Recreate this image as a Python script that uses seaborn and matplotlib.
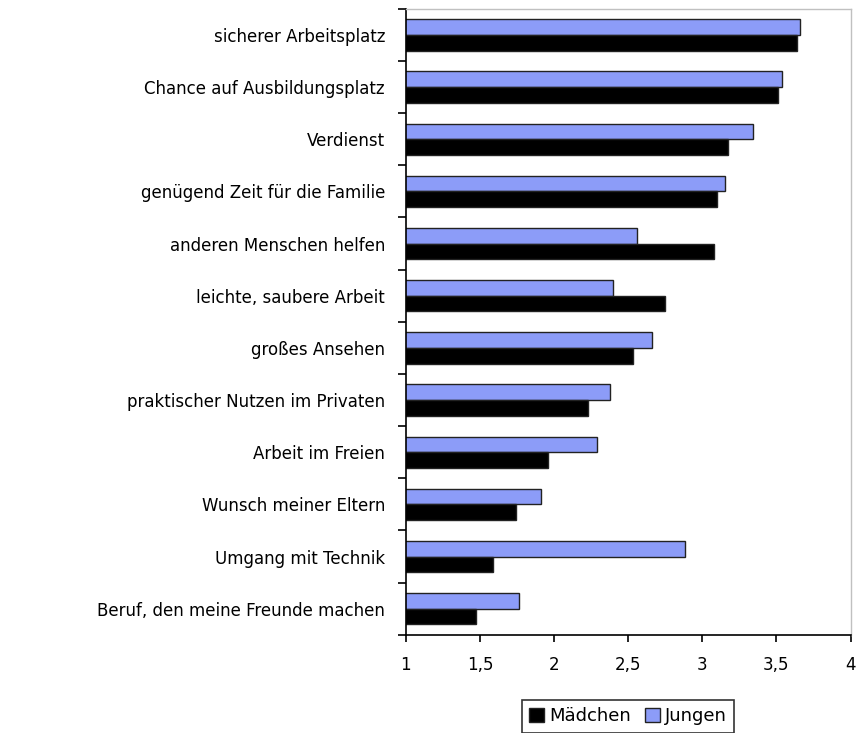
import numpy as np
import pandas as pd
import seaborn as sns
from matplotlib import pyplot as plt
from matplotlib.ticker import FuncFormatter
from matplotlib.patches import Patch

# categories, top to bottom
categories = [
    "sicherer Arbeitsplatz",
    "Chance auf Ausbildungsplatz",
    "Verdienst",
    "genügend Zeit für die Familie",
    "anderen Menschen helfen",
    "leichte, saubere Arbeit",
    "großes Ansehen",
    "praktischer Nutzen im Privaten",
    "Arbeit im Freien",
    "Wunsch meiner Eltern",
    "Umgang mit Technik",
    "Beruf, den meine Freunde machen",
]

maedchen = [3.64, 3.51, 3.17, 3.10, 3.08, 2.75, 2.53, 2.23, 1.96, 1.74, 1.59, 1.47]
jungen = [3.66, 3.54, 3.34, 3.15, 2.56, 2.40, 2.66, 2.38, 2.29, 1.91, 2.88, 1.76]

x_ticks = [1, 1.5, 2, 2.5, 3, 3.5, 4]

colors = {"Jungen": "#8c9cf8", "Mädchen": "#000000"}


def main():
    sns.set_style("white")
    plt.rcParams["font.family"] = ["DejaVu Sans"]
    plt.rcParams["text.color"] = "black"
    plt.rcParams["xtick.color"] = "black"
    plt.rcParams["ytick.color"] = "black"

    df = pd.DataFrame({
        "Kategorie": categories * 2,
        "Wert": jungen + maedchen,
        "Gruppe": ["Jungen"] * len(categories) + ["Mädchen"] * len(categories),
    })

    fig = plt.figure(figsize=(8.6, 7.33), dpi=100)
    ax = fig.add_axes([0.472, 0.134, 0.517, 0.854])

    #bars, jungen on top of each pair
    sns.barplot(data=df, y="Kategorie", x="Wert", hue="Gruppe",
                hue_order=["Jungen", "Mädchen"], palette=colors,
                saturation=1, orient="h", width=0.6, edgecolor="#222222",
                linewidth=1, legend=False, ax=ax)

    ax.set_xlim(1, 4)
    ax.set_ylim(len(categories) - 0.5, -0.5)
    ax.set_xlabel("")
    ax.set_ylabel("")

    #x ticks with german decimal comma
    ax.set_xticks(x_ticks)
    ax.xaxis.set_major_formatter(FuncFormatter(
        lambda v, pos: ("%g" % v).replace(".", ",")))

    #category ticks sit between the labels
    ax.set_yticks(np.arange(-0.5, len(categories)), minor=True)
    ax.tick_params(axis="y", which="major", length=0, pad=15, labelsize=12,
                   labelcolor="black")
    ax.tick_params(axis="y", which="minor", length=6, width=1.2,
                   color="black", direction="out", left=True)
    ax.tick_params(axis="x", length=5, width=1.2, color="black",
                   direction="out", bottom=True, labelsize=12, pad=10,
                   labelcolor="black")

    for side in ["left", "bottom"]:
        ax.spines[side].set_color("black")
        ax.spines[side].set_linewidth(1.2)
    for side in ["top", "right"]:
        ax.spines[side].set_color("#c0c0c0")
        ax.spines[side].set_linewidth(1)

    #legend below the plot, maedchen first
    handles = [Patch(facecolor=colors["Mädchen"], edgecolor="#222222"),
               Patch(facecolor=colors["Jungen"], edgecolor="#222222")]
    leg = ax.legend(handles, ["Mädchen", "Jungen"], loc="upper center",
                    bbox_to_anchor=(0.5, -0.09), ncol=2, fontsize=13,
                    frameon=True, fancybox=False, handlelength=0.8,
                    handleheight=0.8, handletextpad=0.3, columnspacing=0.8,
                    borderpad=0.4)
    leg.get_frame().set_edgecolor("black")
    leg.get_frame().set_linewidth(1.2)

    fig.savefig("out.png", dpi=100)


main()
